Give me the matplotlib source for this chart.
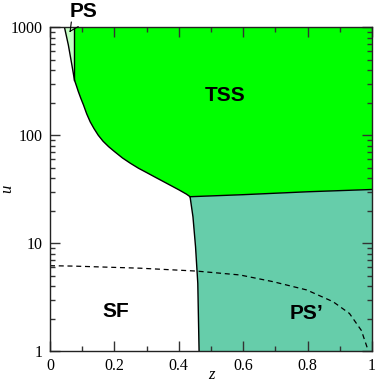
import matplotlib
matplotlib.use("Agg")
import matplotlib.pyplot as plt
from matplotlib.ticker import LogLocator, MultipleLocator, NullFormatter, FixedFormatter, FixedLocator
import numpy as np

# ─────────── data (z, u) ───────────
# TSS 下边界（从顶部竖线到拐点）
tss_z = [0.076, 0.082, 0.088, 0.096, 0.104, 0.114, 0.125, 0.137, 0.150, 0.165, 0.182,
         0.200, 0.225, 0.250, 0.275, 0.300, 0.325, 0.350, 0.375, 0.400, 0.424, 0.435]
tss_u = [325, 288, 254, 219, 191, 158, 133, 115, 100, 88, 78.5,
         70.8, 61.7, 55, 49.5, 45.2, 41.2, 37.6, 34.3, 31.3, 28.5, 27.0]
# TSS / PS' 分界
top_z = [0.435, 0.6, 0.8, 1.0]
top_u = [27.0, 28.2, 30.0, 31.5]
# SF / PS' 分界
sfp_z = [0.435, 0.444, 0.452, 0.459, 0.463]
sfp_u = [27.0, 17.6, 9.3, 4.26, 1.0]
# PS 小区域左边界
ps_z = [0.045, 0.057, 0.068, 0.076]
ps_u = [1000, 686, 448, 325]
# 虚线
dash_z = [0.0, 0.073, 0.28, 0.455, 0.59, 0.693, 0.797, 0.879, 0.93, 0.967, 0.988]
dash_u = [6.2, 6.15, 5.88, 5.53, 5.09, 4.41, 3.70, 2.88, 2.24, 1.56, 1.02]

C_TSS = "#00ff00"
C_PSP = "#66cdaa"
C_PS = "#c4ffc4"

fig = plt.figure(figsize=(3.79, 3.82), dpi=100)
ax = fig.add_axes([0.1319, 0.0804, 0.9815 - 0.1319, 0.9285 - 0.0804])
ax.set_yscale("log")
ax.set_xlim(0, 1)
ax.set_ylim(1, 1000)

# TSS
tx = [tss_z[0]] + tss_z + top_z[1:] + [1.0]
ty = [1000] + tss_u + top_u[1:] + [1000]
ax.fill(tx, ty, color=C_TSS, lw=0)
# PS'
px = top_z + [1.0] + sfp_z[::-1]
py = top_u + [1.0] + sfp_u[::-1]
ax.fill(px, py, color=C_PSP, lw=0)
# PS
ax.fill(ps_z + [ps_z[-1]], ps_u + [1000], color=C_PS, lw=0)

lk = dict(color="black", lw=1.0)
ax.plot(ps_z + tss_z[1:], ps_u + tss_u[1:], **lk)
ax.plot([tss_z[0], tss_z[0]], [tss_u[0], 1000], **lk)
ax.plot(top_z, top_u, **lk)
ax.plot(sfp_z, sfp_u, **lk)
ax.plot(dash_z, dash_u, color="black", lw=0.9, ls=(0, (4, 3)))

# ticks
ax.xaxis.set_major_locator(FixedLocator([0, 0.2, 0.4, 0.6, 0.8, 1.0]))
ax.xaxis.set_major_formatter(FixedFormatter(["0", "0.2", "0.4", "0.6", "0.8", "1"]))
ax.xaxis.set_minor_locator(MultipleLocator(0.1))
ax.yaxis.set_major_locator(FixedLocator([1, 10, 100, 1000]))
ax.yaxis.set_major_formatter(FixedFormatter(["1", "10", "100", "1000"]))
ax.yaxis.set_minor_locator(LogLocator(base=10, subs=np.arange(2, 10)))
ax.yaxis.set_minor_formatter(NullFormatter())
ax.tick_params(which="both", direction="in", top=True, right=True,
               color="#333333", width=1.0)
ax.tick_params(which="major", length=7, pad=5)
ax.tick_params(which="minor", length=3.5)
for lab in ax.get_xticklabels() + ax.get_yticklabels():
    lab.set_family("Liberation Serif")
    lab.set_fontsize(11.5)
for s in ax.spines.values():
    s.set_linewidth(1.0)
    s.set_color("#222222")

ax.set_xlabel("z", family="Liberation Serif", style="italic", fontsize=12, labelpad=-5.5)
ax.set_ylabel("u", family="Liberation Serif", style="italic", fontsize=12, labelpad=-3)

# 区域标签
bf = dict(family="Liberation Sans", fontweight="bold", fontsize=15,
          ha="center", va="center")
ax.text(0.543, 234, "TSS", **bf)
ax.text(0.205, 2.33, "SF", **bf)
ax.text(0.797, 2.25, "PS\u2019", **bf)
ax.annotate("PS", xy=(0.0605, 900), xytext=(0.103, 1393),
            textcoords="data", annotation_clip=False,
            arrowprops=dict(arrowstyle="->", lw=0.8, color="black",
                            shrinkA=6, shrinkB=0), **bf)

fig.savefig("out.png", dpi=100)
